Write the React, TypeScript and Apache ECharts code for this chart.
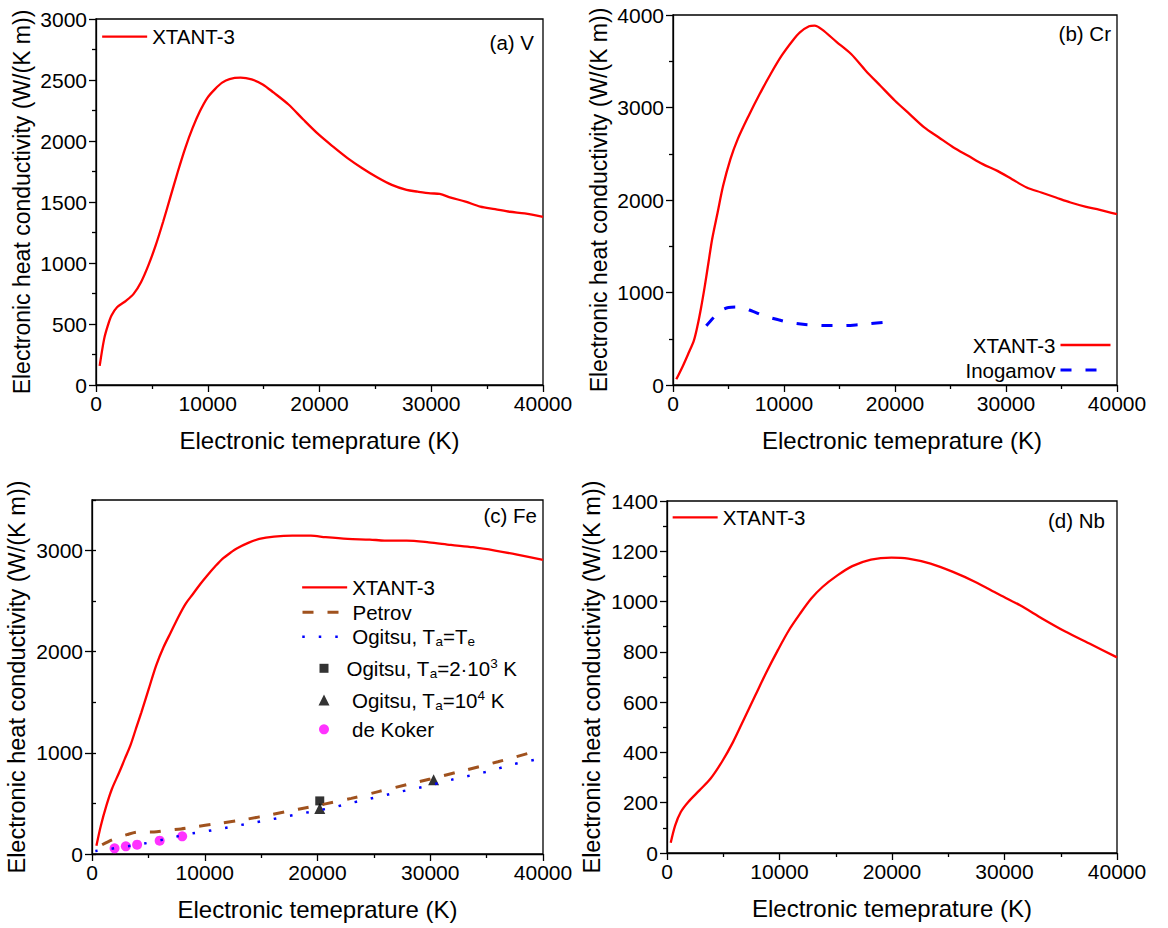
import React, { useEffect, useRef } from "react";
import * as echarts from "echarts";

// ---------- data ----------
const vTemp = [330, 726, 1056, 1386, 1881, 2706, 3366, 4026, 4686, 5347, 6007, 6667, 7327, 7987, 8647, 9307, 9967, 10627, 11287, 11947, 12937, 13927, 14917, 15908, 17228, 18548, 19868, 21188, 22508, 23828, 25149, 26469, 27789, 28779, 29934, 30759, 31749, 33069, 34389, 35710, 37030, 38350, 40000];
const vCond = [157, 376, 486, 569, 637, 692, 747, 843, 981, 1146, 1338, 1544, 1750, 1942, 2107, 2245, 2354, 2423, 2478, 2508, 2519, 2505, 2464, 2396, 2299, 2176, 2058, 1956, 1860, 1777, 1703, 1640, 1599, 1585, 1571, 1566, 1536, 1503, 1462, 1442, 1420, 1407, 1379];

const crTemp = [297, 890, 1384, 1878, 2208, 2537, 2867, 3196, 3526, 4020, 4514, 5173, 5832, 6820, 7809, 8797, 9786, 10774, 11433, 12257, 12751, 13410, 14728, 16046, 17364, 18682, 20000, 21318, 22636, 23954, 25272, 26590, 27908, 29226, 30544, 31862, 33180, 34498, 35816, 37134, 38451, 40000];
const crCond = [61, 206, 340, 480, 640, 840, 1071, 1324, 1576, 1865, 2153, 2442, 2658, 2911, 3145, 3362, 3560, 3722, 3812, 3878, 3885, 3845, 3710, 3578, 3398, 3235, 3073, 2929, 2785, 2676, 2568, 2478, 2388, 2315, 2225, 2135, 2081, 2027, 1973, 1929, 1894, 1847];
const crInoTemp = [3000, 3700, 4400, 5000, 5900, 7200, 8100, 9500, 10500, 11900, 13000, 14300, 15400, 16700, 17700, 19000, 20100];
const crInoCond = [640, 735, 810, 838, 843, 796, 752, 705, 676, 654, 646, 643, 643, 652, 663, 677, 686];

const feTemp = [392, 784, 1275, 1765, 2418, 2908, 3399, 3889, 4379, 5033, 5686, 6340, 6993, 7647, 8301, 8954, 9608, 10261, 10915, 11569, 12222, 12876, 13856, 14837, 16144, 17778, 19412, 20719, 22680, 24641, 25948, 27908, 29869, 31830, 33791, 35752, 37712, 40000];
const feCond = [82, 280, 478, 643, 808, 940, 1071, 1236, 1401, 1632, 1863, 2044, 2192, 2341, 2473, 2571, 2670, 2759, 2842, 2918, 2974, 3023, 3076, 3115, 3138, 3148, 3148, 3132, 3115, 3109, 3099, 3099, 3082, 3056, 3033, 3000, 2960, 2908];
const fePetrovTemp = [900, 1800, 3100, 4100, 5500, 6500, 7900, 8900, 11200, 13600, 15900, 18300, 20600, 23000, 25400, 28000, 30000, 33000, 36000, 39500];
const fePetrovCond = [91, 141, 191, 218, 218, 232, 248, 265, 302, 342, 389, 443, 493, 550, 617, 688, 742, 826, 912, 1020];
const feOgitsuTemp = [294, 4529, 7324, 8735, 10147, 11529, 12941, 14323, 15735, 17147, 18529, 21382, 22765, 24176, 27092, 29869, 31176, 34118, 35425, 36895, 38203, 39673];
const feOgitsuCond = [30, 101, 168, 201, 225, 252, 282, 309, 339, 369, 399, 460, 500, 534, 610, 676, 715, 791, 824, 874, 907, 940];
const feOgitsu2kTemp = [20200];
const feOgitsu2kCond = [525];
const feOgitsu10kTemp = [20200, 30300];
const feOgitsu10kCond = [450, 735];
const feKokerTemp = [2000, 3000, 4000, 6000, 8000];
const feKokerCond = [56, 76, 92, 132, 175];

const nbTemp = [331, 729, 1226, 1889, 2883, 3877, 4872, 5866, 6860, 7854, 8848, 9843, 10837, 11831, 12825, 13819, 15145, 16470, 18128, 19950, 21442, 23430, 25419, 27407, 29396, 31384, 33372, 35360, 37680, 40000];
const nbCond = [41, 110, 163, 203, 249, 296, 362, 441, 534, 627, 720, 806, 886, 952, 1012, 1058, 1104, 1141, 1167, 1175, 1171, 1151, 1118, 1078, 1031, 985, 932, 882, 830, 778];

const panelLabels = ["(a) V", "(b) Cr", "(c) Fe", "(d) Nb"];
const xTitle = "Electronic temeprature (K)";
const yTitle = "Electronic heat conductivity (W/(K m))";
const feYTicks = [0, 1000, 2000, 3000];

const NAME_X = "XTANT-3";
const NAME_INO = "Inogamov";
const NAME_PET = "Petrov";
const NAME_OG = "Ogitsu, Ta=Te";
const NAME_OG2 = "Ogitsu, Ta=2·10^3 K";
const NAME_OG10 = "Ogitsu, Ta=10^4 K";
const NAME_DK = "de Koker";

const zip = (a: number[], b: number[]) => a.map((v, i) => [v, b[i]]);

const FONT = "'Liberation Sans', Arial, Helvetica, sans-serif";
const BLACK = "#000";
const TICK_FS = 21;
const LEG_FS = 20.5;

const grids = [
  { left: 96, top: 19, width: 447, height: 366 },
  { left: 673, top: 15, width: 444, height: 370 },
  { left: 92, top: 500, width: 451, height: 354 },
  { left: 667, top: 501, width: 450, height: 352 },
];

function xAxis(gridIndex: number, padding: number[] = [0, 0, 0, 0]) {
  return {
    type: "value",
    gridIndex,
    min: 0,
    max: 40000,
    interval: 10000,
    name: xTitle,
    nameLocation: "middle",
    nameGap: 43,
    nameTextStyle: { fontSize: 24, color: BLACK, fontFamily: FONT, padding },
    axisLine: { show: true, onZero: false, lineStyle: { color: BLACK, width: 1.3 } },
    axisTick: { show: true, length: 7, lineStyle: { color: BLACK, width: 1.3 } },
    minorTick: { show: true, splitNumber: 2, length: 4, lineStyle: { color: BLACK, width: 1.3 } },
    axisLabel: { fontSize: TICK_FS, color: BLACK, fontFamily: FONT, margin: 8, formatter: (v: number) => String(v) },
    splitLine: { show: false },
    minorSplitLine: { show: false },
  };
}

function yAxis(gridIndex: number, max: number, interval: number, nameSize: number, extra: any = {}) {
  return {
    type: "value",
    gridIndex,
    min: 0,
    max,
    interval,
    name: yTitle,
    nameLocation: "middle",
    nameGap: 63,
    nameTextStyle: { fontSize: nameSize, color: BLACK, fontFamily: FONT },
    axisLine: { show: true, onZero: false, lineStyle: { color: BLACK, width: 1.3 } },
    axisTick: { show: true, length: 7, lineStyle: { color: BLACK, width: 1.3 } },
    minorTick: { show: true, splitNumber: 2, length: 4, lineStyle: { color: BLACK, width: 1.3 } },
    axisLabel: { fontSize: TICK_FS, color: BLACK, fontFamily: FONT, margin: 9, formatter: (v: number) => String(v) },
    splitLine: { show: false },
    minorSplitLine: { show: false },
    ...extra,
  };
}

const lineSeries = (name: string, xi: number, data: number[][], color: string, width: number, type: any = "solid") => ({
  type: "line",
  name,
  xAxisIndex: xi,
  yAxisIndex: xi,
  data,
  symbol: "none",
  smooth: 0.3,
  lineStyle: { color, width, type },
  itemStyle: { color },
});

const legendText = {
  fontSize: LEG_FS,
  color: BLACK,
  fontFamily: FONT,
  lineHeight: 24,
  rich: {
    n: { fontSize: LEG_FS, lineHeight: 24, color: BLACK, fontFamily: FONT },
    s: { fontSize: 13.5, lineHeight: 12, color: BLACK, fontFamily: FONT, verticalAlign: "bottom" },
    p: { fontSize: 13.5, lineHeight: 12, color: BLACK, fontFamily: FONT, verticalAlign: "top" },
    g13: { width: 13, lineHeight: 24 },
    g17: { width: 17.5, lineHeight: 24 },
    g18: { width: 18, lineHeight: 24 },
  },
};

const richNames: Record<string, string> = {
  [NAME_OG]: "{n|Ogitsu, T}{s|a}{n|=T}{s|e}",
  [NAME_OG2]: "{g13| }{n|Ogitsu, T}{s|a}{n|=2·10}{p|3}{n| K}",
  [NAME_OG10]: "{g17| }{n|Ogitsu, T}{s|a}{n|=10}{p|4}{n| K}",
  [NAME_DK]: "{g18| }{n|de Koker}",
};

function legend(name: string, left: number, centerY: number, itemWidth: number, itemHeight: number, lineIcon: boolean, extra: any = {}) {
  return {
    show: true,
    data: [name],
    left,
    top: centerY - 12,
    orient: "vertical",
    padding: 0,
    itemGap: 1,
    itemWidth,
    itemHeight,
    selectedMode: false,
    lineStyle: { width: "inherit" },
    itemStyle: lineIcon ? { opacity: 0 } : {},
    textStyle: legendText,
    formatter: (n: string) => richNames[n] || `{n|${n}}`,
    ...extra,
  };
}

const labelStyle = (text: string) => ({
  text,
  fontSize: 20.5,
  fontFamily: FONT,
  fill: BLACK,
  align: "right",
  verticalAlign: "middle",
});

export default function App() {
  const ref = useRef<HTMLDivElement>(null);
  useEffect(() => {
    document.body.style.margin = "0";
    const chart = echarts.init(ref.current!, null, { renderer: "svg" });
    const option: any = {
      animation: false,
      backgroundColor: "#fff",
      textStyle: { fontFamily: FONT },
      grid: grids.map((g) => ({
        ...g,
        show: true,
        borderColor: BLACK,
        borderWidth: 1.3,
        backgroundColor: "transparent",
        containLabel: false,
        outerBoundsMode: "none",
      })),
      xAxis: [xAxis(0), xAxis(1, [0, 0, 0, 14]), xAxis(2), xAxis(3)],
      yAxis: [
        yAxis(0, 3000, 500, 23),
        yAxis(1, 4000, 1000, 23),
        yAxis(2, 3500, 500, 23.5, {
          minorTick: { show: false },
          axisTick: { show: true, length: 7, customValues: feYTicks, lineStyle: { color: BLACK, width: 1.3 } },
          axisLabel: {
            fontSize: TICK_FS,
            color: BLACK,
            fontFamily: FONT,
            margin: 9,
            customValues: feYTicks,
            formatter: (v: number) => String(v),
          },
        }),
        yAxis(3, 1400, 200, 23.5),
        {
          type: "value",
          gridIndex: 2,
          min: 0,
          max: 3500,
          interval: 500,
          axisLine: { show: false },
          axisTick: { show: true, length: 4, lineStyle: { color: BLACK, width: 1.3 } },
          axisLabel: { show: false },
          splitLine: { show: false },
        },
      ],
      legend: [
        legend(NAME_X, 101, 36.7, 45, 14, true),
        legend(NAME_X, 0, 345, 50, 14, true, {
          left: undefined,
          right: 56,
          top: 333,
          data: [NAME_X, NAME_INO],
          align: "right",
        }),
        legend(NAME_X, 301, 587.3, 45, 14, true),
        legend(NAME_PET, 301, 612.3, 45, 14, true),
        legend(NAME_OG, 301, 636.7, 45, 14, true),
        legend(NAME_OG2, 319.5, 668.3, 9, 9, false),
        legend(NAME_OG10, 318.5, 700, 11, 11, false),
        legend(NAME_DK, 319, 729.3, 10, 10, false),
        legend(NAME_X, 671.5, 517.3, 45, 14, true),
      ],
      graphic: [
        { type: "text", x: 534, y: 42, style: labelStyle(panelLabels[0]) },
        { type: "text", x: 1111, y: 33, style: labelStyle(panelLabels[1]) },
        { type: "text", x: 537, y: 515, style: labelStyle(panelLabels[2]) },
        { type: "text", x: 1105, y: 520, style: labelStyle(panelLabels[3]) },
      ],
      series: [
        lineSeries(NAME_X, 0, zip(vTemp, vCond), "#ff0000", 2.3),
        lineSeries(NAME_X, 1, zip(crTemp, crCond), "#ff0000", 2.3),
        lineSeries(NAME_INO, 1, zip(crInoTemp, crInoCond), "#0000ff", 3, [11, 14]),
        lineSeries(NAME_X, 2, zip(feTemp, feCond), "#ff0000", 2.3),
        lineSeries(NAME_PET, 2, zip(fePetrovTemp, fePetrovCond), "#a0521e", 3, [11, 14]),
        lineSeries(NAME_OG, 2, zip(feOgitsuTemp, feOgitsuCond), "#0000ff", 2.5, [2.5, 14]),
        {
          type: "scatter",
          name: NAME_OG2,
          xAxisIndex: 2,
          yAxisIndex: 2,
          data: zip(feOgitsu2kTemp, feOgitsu2kCond),
          symbol: "rect",
          symbolSize: 9,
          itemStyle: { color: BLACK },
        },
        {
          type: "scatter",
          name: NAME_OG10,
          xAxisIndex: 2,
          yAxisIndex: 2,
          data: zip(feOgitsu10kTemp, feOgitsu10kCond),
          symbol: "triangle",
          symbolSize: 11,
          itemStyle: { color: BLACK },
        },
        {
          type: "scatter",
          name: NAME_DK,
          xAxisIndex: 2,
          yAxisIndex: 2,
          data: zip(feKokerTemp, feKokerCond),
          symbol: "circle",
          symbolSize: 10,
          itemStyle: { color: "#ff00ff" },
        },
        lineSeries(NAME_X, 3, zip(nbTemp, nbCond), "#ff0000", 2.3),
      ],
    };
    chart.setOption(option);
    return () => chart.dispose();
  }, []);
  return <div ref={ref} style={{ width: 1168, height: 928 }} />;
}
